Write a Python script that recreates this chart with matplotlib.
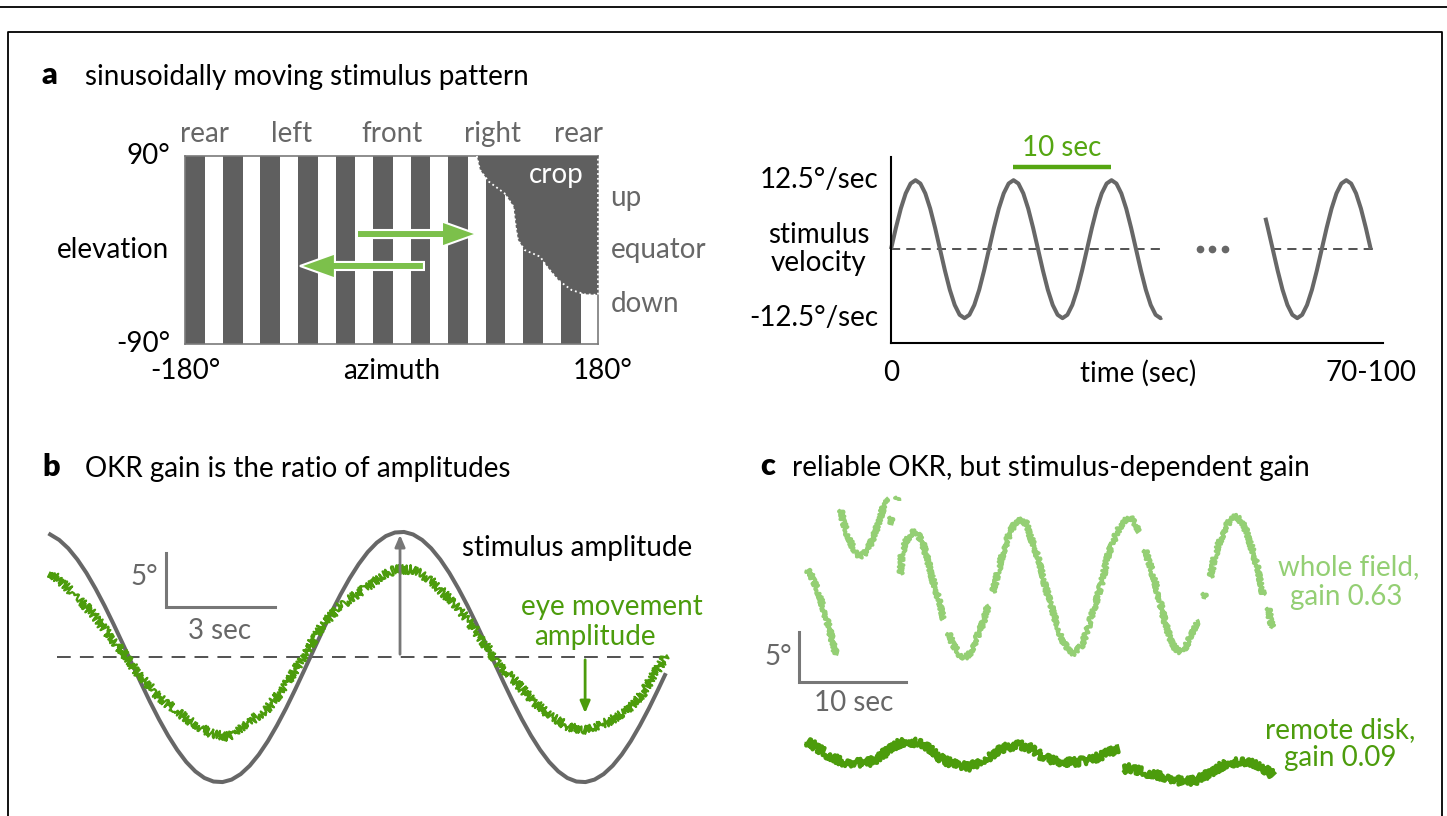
import matplotlib
matplotlib.use("Agg")
import matplotlib.pyplot as plt
from matplotlib.lines import Line2D
from matplotlib.patches import Rectangle, Polygon, FancyArrow

plt.rcParams["font.family"] = ["Lato", "DejaVu Sans"]

W, H = 1447, 816
GRAY = "#676767"
DARK = "#5f5f5f"
GREEN = "#4c9c0c"
LIGHT = "#94cf74"
ARROW = "#7cc04b"
FS = 20

# ---- panel a (left): stimulus pattern, azimuth / elevation in degrees
stripe_left = [-162.5, -129.8, -97.0, -64.3, -31.6, 1.1, 33.9, 66.6, 99.3, 132.0, 164.8]
stripe_width = 15.5
crop_az = [74.4, 77.1, 84.9, 98.5, 106.3, 108.3, 110.2, 116.0, 129.6, 135.5, 145.2, 156.9, 168.5, 180, 180]
crop_el = [90, 76.6, 65.4, 54.3, 41.5, 22.3, 9.6, 0, -6.4, -16, -28.7, -38.3, -42.4, -43, 90]
view_names = ["rear", "left", "front", "right", "rear"]
view_az = [-163, -87, 0, 88, 163]
elev_names = ["up", "equator", "down"]
elev_pos = [50, 0, -52]

# ---- panel a (right): stimulus velocity (deg/sec) vs time (sec)
vel_t1 = [0, 0.5, 1, 1.5, 2, 2.5, 3, 3.5, 4, 4.5, 5, 5.5, 6, 6.5, 7, 7.5, 8, 8.5, 9, 9.5,
          10, 10.5, 11, 11.5, 12, 12.5, 13, 13.5, 14, 14.5, 15, 15.5, 16, 16.5, 17, 17.5, 18, 18.5, 19, 19.5,
          20, 20.5, 21, 21.5, 22, 22.5, 23, 23.5, 24, 24.5, 25, 25.5, 26, 26.5, 27, 27.5, 27.65]
vel_v1 = [0, 3.86, 7.35, 10.11, 11.89, 12.5, 11.89, 10.11, 7.35, 3.86,
          0, -3.86, -7.35, -10.11, -11.89, -12.5, -11.89, -10.11, -7.35, -3.86,
          0, 3.86, 7.35, 10.11, 11.89, 12.5, 11.89, 10.11, 7.35, 3.86,
          0, -3.86, -7.35, -10.11, -11.89, -12.5, -11.89, -10.11, -7.35, -3.86,
          0, 3.86, 7.35, 10.11, 11.89, 12.5, 11.89, 10.11, 7.35, 3.86,
          0, -3.86, -7.35, -10.11, -11.89, -12.5, -12.36]
vel_t2 = [38.2, 38.45, 38.95, 39.45, 39.95, 40.45, 40.95, 41.45, 41.95, 42.45, 42.95, 43.45,
          43.95, 44.45, 44.95, 45.45, 45.95, 46.45, 46.95, 47.45, 47.95, 48.45, 48.95]
vel_v2 = [5.7, 3.86, 0, -3.86, -7.35, -10.11, -11.89, -12.5, -11.89, -10.11, -7.35, -3.86,
          0, 3.86, 7.35, 10.11, 11.89, 12.5, 11.89, 10.11, 7.35, 3.86, 0]
vel_amp = 12.5
period_start, period_len = 12.45, 10
gap_dots = [31.5, 32.8, 34.1]

# ---- panel b: stimulus and eye position (deg) vs time (sec)
stim_t = [i * 0.25 for i in range(68)] + [16.94]
stim_pos = [11.35, 10.84, 10.06, 9.03, 7.78, 6.33, 4.74, 3.02, 1.23, -0.59,
            -2.39, -4.14, -5.78, -7.28, -8.60, -9.72, -10.59, -11.20, -11.53, -11.58,
            -11.35, -10.84, -10.06, -9.03, -7.78, -6.33, -4.74, -3.02, -1.23, 0.59,
            2.39, 4.14, 5.78, 7.28, 8.60, 9.72, 10.59, 11.20, 11.53, 11.58,
            11.35, 10.84, 10.06, 9.03, 7.78, 6.33, 4.74, 3.02, 1.23, -0.59,
            -2.39, -4.14, -5.78, -7.28, -8.60, -9.72, -10.59, -11.20, -11.53, -11.58,
            -11.35, -10.84, -10.06, -9.03, -7.78, -6.33, -4.74, -3.02, -1.67]
eye_t = [0.0, 0.27, 0.64, 1.15, 1.66, 2.04, 2.41, 2.92, 3.43, 3.93, 4.44, 4.94, 5.45, 5.95,
         6.46, 6.97, 7.47, 7.98, 8.61, 9.12, 9.49, 10.0, 10.51, 11.01, 11.52, 12.02, 12.4,
         12.78, 13.29, 13.79, 14.3, 14.8, 15.31, 15.81, 16.32, 16.83, 16.95]
eye_pos = [7.8, 7.1, 5.9, 4.1, 1.9, 0.3, -1.5, -3.4, -4.9, -6.1, -7.1, -7.4, -6.1, -4.9,
           -2.8, 0.0, 2.8, 4.7, 6.2, 7.4, 8.1, 8.1, 7.1, 5.3, 3.4, 1.0, -0.9,
           -2.1, -4.0, -5.5, -6.5, -6.8, -6.1, -5.2, -3.4, -0.6, 0.2]
stim_peak_t, stim_amp = 9.64, 11.57
eye_trough_t, eye_amp = 14.74, -5.46

# ---- panel c: recorded eye position (deg) vs time (sec), gaps are blinks
wf_t = [
    [0.07, 0.37, 0.68, 1.15, 1.62, 2.08, 2.40, 2.62, 2.87],
    [3.24, 3.49, 3.95, 4.42, 5.05, 5.51, 5.98, 6.45, 6.92, 7.29, 7.54],
    [7.94, 7.94],
    [8.48, 8.48],
    [8.85, 8.94, 9.25, 9.72, 10.03, 10.50, 10.96, 11.43, 11.90, 12.36, 12.83],
    [13.30, 13.77, 14.39, 14.86, 15.33, 15.95, 16.57, 17.04],
    [17.48, 17.94, 18.41, 19.07, 19.72, 20.19, 20.65, 20.93, 21.59, 22.15, 22.80, 23.46,
     24.02, 24.67, 25.14, 25.79, 26.36, 27.01, 27.66, 28.22, 29.07, 29.63, 30.28, 30.75, 31.03],
    [31.68, 32.15, 32.62, 33.08, 33.55, 34.02, 34.49, 34.95, 35.42, 35.89, 36.36, 36.66],
    [37.20, 37.29],
    [37.82, 38.07, 38.53, 39.16, 39.79, 40.25, 40.72, 41.19, 41.65, 42.12, 42.43, 42.74],
    [43.21, 43.36, 43.58],
]
wf_pos = [
    [23.0, 22.7, 22.0, 20.8, 19.2, 17.5, 16.2, 15.2, 14.5],
    [29.0, 27.8, 26.3, 25.2, 24.3, 24.7, 25.5, 26.7, 28.2, 29.5, 30.2],
    [28.3, 27.6],
    [30.3, 29.9],
    [22.6, 24.5, 25.7, 26.5, 27.0, 26.5, 25.5, 23.8, 21.8, 20.2, 18.0],
    [16.7, 15.5, 14.5, 14.2, 14.7, 16.2, 17.8, 19.5],
    [20.8, 22.8, 24.8, 26.8, 28.0, 27.9, 27.6, 26.5, 24.5, 22.2, 19.8, 17.5,
     15.8, 14.8, 14.7, 15.5, 17.2, 19.5, 21.8, 24.5, 26.8, 27.8, 28.3, 27.7, 26.8],
    [25.0, 23.5, 21.8, 19.8, 17.8, 16.2, 15.2, 14.8, 15.2, 16.2, 17.2, 18.0],
    [20.7, 20.2],
    [22.3, 23.8, 25.5, 27.2, 28.2, 28.3, 27.8, 26.8, 25.2, 23.5, 21.8, 20.5],
    [19.2, 18.2, 17.2],
]
rd_t = [
    [0.07, 0.68, 1.62, 2.55, 3.49, 4.74, 5.98, 6.92, 7.85, 8.79, 10.03, 10.96, 11.90, 12.83,
     14.08, 15.33, 16.57, 17.82, 18.76, 20.00, 20.93, 21.87, 22.80, 24.05, 25.30, 26.54, 27.79, 29.19],
    [29.65, 30.28, 31.52, 32.78, 34.02, 35.26, 36.51, 37.76, 39.00, 40.25, 41.50, 42.74, 43.67],
]
rd_pos = [
    [5.8, 5.5, 4.8, 4.2, 3.8, 3.7, 3.8, 4.3, 5.2, 5.7, 5.8, 5.5, 4.8, 4.0,
     3.5, 3.3, 4.0, 4.8, 5.3, 5.5, 5.2, 4.5, 4.0, 3.8, 3.8, 4.0, 4.5, 5.2],
    [3.0, 3.2, 2.8, 2.5, 2.2, 1.8, 2.0, 2.7, 3.5, 3.8, 3.7, 3.2, 2.5],
]

fig = plt.figure(figsize=(W / 100, H / 100), dpi=100)


def px_axes(x0, y0, x1, y1):
    ax = fig.add_axes([x0 / W, 1 - y1 / H, (x1 - x0) / W, (y1 - y0) / H])
    ax.set_xticks([])
    ax.set_yticks([])
    return ax


def fig_line(xs, ys, **kw):
    fig.add_artist(Line2D([x / W for x in xs], [1 - y / H for y in ys],
                          transform=fig.transFigure, **kw))


def fig_text(x, y, s, **kw):
    fig.text(x / W, 1 - y / H, s, **kw)


# outer frame
fig_line([0, W], [7, 7], color="black", lw=1.3)
fig_line([8, 8, 1442, 1442], [H, 32, 32, H], color="black", lw=1.3)

# panel titles
for x, letter, y in [(42, "a", 84), (42, "b", 476), (760, "c", 475)]:
    fig_text(x, y, letter, fontsize=FS + 2, fontweight="heavy", va="baseline")
fig_text(85, 85, "sinusoidally moving stimulus pattern", fontsize=FS, va="baseline")
fig_text(85, 477, "OKR gain is the ratio of amplitudes", fontsize=FS, va="baseline")
fig_text(792, 476, "reliable OKR, but stimulus-dependent gain", fontsize=FS, va="baseline")

# ---- a, stimulus pattern
ax = px_axes(185, 156, 598, 344)
ax.set_xlim(-180, 180)
ax.set_ylim(-90, 90)
ax.set_facecolor(DARK)
for sp in ax.spines.values():
    sp.set_color("#7a7a7a")
    sp.set_linewidth(1.2)
for left in stripe_left:
    ax.add_patch(Rectangle((left, -90), stripe_width, 180, color="white", lw=0))
ax.add_patch(Polygon(list(zip(crop_az, crop_el)), closed=True, fc=DARK, ec="none", zorder=3))
ax.plot(crop_az, crop_el, color="white", ls=":", lw=1.3, zorder=4, clip_on=False)
ax.text(144, 72, "crop", color="white", fontsize=FS, ha="center", va="center", zorder=5)
ax.add_patch(FancyArrow(-30.1, 15.3, 104.6, 0, width=7.7, head_width=24, head_length=30.5,
                        length_includes_head=True, fc=ARROW, ec="white", lw=1.5, zorder=6))
ax.add_patch(FancyArrow(28.3, -15.3, -108.1, 0, width=7.7, head_width=24, head_length=30.5,
                        length_includes_head=True, fc=ARROW, ec="white", lw=1.5, zorder=6))
for name, az in zip(view_names, view_az):
    ax.text(az, 111, name, color=GRAY, fontsize=FS, ha="center", va="center", clip_on=False)
for name, el in zip(elev_names, elev_pos):
    ax.text(191, el, name, color=GRAY, fontsize=FS, ha="left", va="center", clip_on=False)
ax.text(-193, 90, "90°", fontsize=FS, ha="right", va="center")
ax.text(-193, -90, "-90°", fontsize=FS, ha="right", va="center")
ax.text(-243, 0, "elevation", fontsize=FS, ha="center", va="center")
ax.text(-180, -116, "-180°", fontsize=FS, ha="center", va="center")
ax.text(0, -116, "azimuth", fontsize=FS, ha="center", va="center")
ax.text(184, -116, "180°", fontsize=FS, ha="center", va="center")

# ---- a, stimulus velocity
ax = px_axes(891, 157, 1383, 343)
ax.set_xlim(0, 50.2)
ax.set_ylim(-17.0, 16.7)
ax.patch.set_alpha(0)
for side in ["top", "right"]:
    ax.spines[side].set_visible(False)
for side in ["left", "bottom"]:
    ax.spines[side].set_linewidth(1.5)
dash = (0, (6, 4))
ax.plot([0, 27.65], [0, 0], color="#222222", lw=1.1, ls=dash)
ax.plot([38.9, 49.4], [0, 0], color="#222222", lw=1.1, ls=dash)
ax.plot(vel_t1, vel_v1, color=GRAY, lw=2.9, solid_capstyle="butt", clip_on=False)
ax.plot(vel_t2, vel_v2, color=GRAY, lw=2.9, solid_capstyle="butt", clip_on=False)
ax.plot(gap_dots, [0] * len(gap_dots), "o", color=GRAY, ms=4.5)
ax.plot([period_start, period_start + period_len], [14.86, 14.86], color="#55a612", lw=3.2,
        solid_capstyle="butt", clip_on=False)
ax.text(period_start + period_len / 2, 18.4, f"{period_len} sec", color="#55a612", fontsize=FS,
        ha="center", va="center", clip_on=False)
ax.text(-1.3, vel_amp, f"{vel_amp}°/sec", fontsize=FS, ha="right", va="center")
ax.text(-1.3, -vel_amp, f"-{vel_amp}°/sec", fontsize=FS, ha="right", va="center")
ax.text(-7.4, 0, "stimulus\nvelocity", fontsize=FS, ha="center", va="center", linespacing=1.1)
ax.text(0, -22.4, "0", fontsize=FS, ha="center", va="center")
ax.text(25.2, -22.4, "time (sec)", fontsize=FS, ha="center", va="center")
ax.text(49.0, -22.4, "70-100", fontsize=FS, ha="center", va="center")

# ---- b, OKR gain
ax = px_axes(40, 500, 690, 800)
ax.set_xlim(-0.28, 17.63)
ax.set_ylim(-13.24, 14.54)
ax.axis("off")
ax.plot([0.19, 17.0], [0, 0], color="#222222", lw=1.1, ls=(0, (9, 6)))
ax.plot(stim_t, stim_pos, color=GRAY, lw=2.9)
eye, = ax.plot(eye_t, eye_pos, color=GREEN, lw=1.6)
eye.set_sketch_params(scale=4.5, length=2, randomness=2)
ax.plot([3.2, 3.2, 6.2], [9.63, 4.63, 4.63], color="#777777", lw=2.2, solid_joinstyle="miter")
ax.text(2.98, 7.4, "5°", color=GRAY, fontsize=FS, ha="right", va="center")
ax.text(4.68, 2.4, "3 sec", color=GRAY, fontsize=FS, ha="center", va="center")
ax.annotate("", xy=(stim_peak_t, stim_amp), xytext=(stim_peak_t, 0),
            arrowprops=dict(arrowstyle="-|>,head_length=0.7,head_width=0.3", color="#777777", lw=2))
ax.annotate("", xy=(eye_trough_t, eye_amp), xytext=(eye_trough_t, 0),
            arrowprops=dict(arrowstyle="-|>,head_length=0.7,head_width=0.3", color=GREEN, lw=2))
ax.text(11.35, 10.1, "stimulus amplitude", fontsize=FS, ha="left", va="center")
ax.text(15.48, 4.6, "eye movement", color=GREEN, fontsize=FS, ha="center", va="center", clip_on=False)
ax.text(15.01, 1.9, "amplitude", color=GREEN, fontsize=FS, ha="center", va="center", clip_on=False)

# ---- c, recorded traces
ax = px_axes(780, 490, 1290, 800)
ax.set_xlim(-2.43, 45.23)
ax.set_ylim(0, 31)
ax.axis("off")
for t, p in zip(wf_t, wf_pos):
    ln, = ax.plot(t, p, color=LIGHT, lw=2.6, solid_capstyle="butt")
    ln.set_sketch_params(scale=2.5, length=1.5, randomness=2)
for t, p in zip(rd_t, rd_pos):
    ln, = ax.plot(t, p, color=GREEN, lw=3.0, solid_capstyle="butt")
    ln.set_sketch_params(scale=4, length=1.5, randomness=2)
ax.plot([-0.65, -0.65, 9.35], [16.8, 11.8, 11.8], color="#777777", lw=2.2, solid_joinstyle="miter",
        clip_on=False)
ax.text(-1.31, 14.3, "5°", color=GRAY, fontsize=FS, ha="right", va="center")
ax.text(4.49, 9.7, "10 sec", color=GRAY, fontsize=FS, ha="center", va="center")
ax.text(50.7, 23.3, "whole field,", color=LIGHT, fontsize=FS, ha="center", va="center", clip_on=False)
ax.text(50.5, 20.3, "gain 0.63", color=LIGHT, fontsize=FS, ha="center", va="center", clip_on=False)
ax.text(49.9, 7.0, "remote disk,", color=GREEN, fontsize=FS, ha="center", va="center", clip_on=False)
ax.text(49.9, 4.2, "gain 0.09", color=GREEN, fontsize=FS, ha="center", va="center", clip_on=False)

fig.savefig("out.png", dpi=100)
